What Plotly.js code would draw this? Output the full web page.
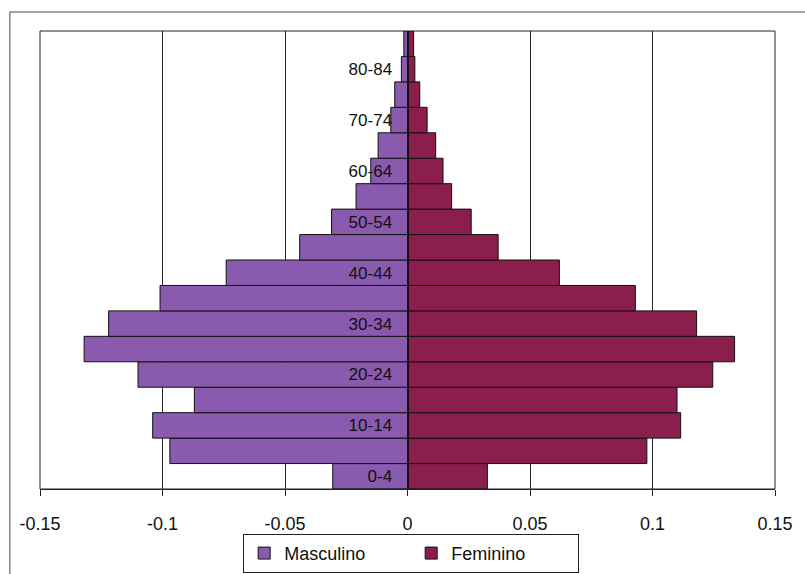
<!DOCTYPE html>
<html>
<head>
<meta charset="utf-8">
<script src="https://cdn.plot.ly/plotly-3.0.1.min.js"></script>
<style>
  html, body { margin: 0; padding: 0; background: #fff; }
  #chart { width: 805px; height: 574px; }
</style>
</head>
<body>
<div id="chart"></div>
<script>
// Age groups (bottom to top)
const ageGroups = ['0-4','5-9','10-14','15-19','20-24','25-29','30-34','35-39','40-44','45-49','50-54','55-59','60-64','65-69','70-74','75-79','80-84','85+'];
// Proportions (male plotted as negative values)
const masculino = [-0.0305, -0.097, -0.104, -0.087, -0.110, -0.132, -0.122, -0.101, -0.074, -0.044, -0.031, -0.021, -0.015, -0.012, -0.0068, -0.0052, -0.0025, -0.0015];
const feminino  = [0.0326, 0.0977, 0.1115, 0.110, 0.1246, 0.1335, 0.118, 0.093, 0.062, 0.037, 0.026, 0.018, 0.0145, 0.0115, 0.008, 0.005, 0.003, 0.0025];
// Labelled age groups on the central axis
const yTickVals = ['0-4','10-14','20-24','30-34','40-44','50-54','60-64','70-74','80-84'];
// X axis ticks
const xTickVals = [-0.15, -0.1, -0.05, 0, 0.05, 0.1, 0.15];
const xTickText = ['-0.15', '-0.1', '-0.05', '0', '0.05', '0.1', '0.15'];

const FONT = 'Liberation Sans, Arial, sans-serif';

const traces = [
  {
    type: 'bar', orientation: 'h', name: 'Masculino',
    y: ageGroups, x: masculino,
    marker: { color: '#8a5aae', line: { color: '#111', width: 1 } }
  },
  {
    type: 'bar', orientation: 'h', name: 'Feminino',
    y: ageGroups, x: feminino,
    marker: { color: '#8c1e4e', line: { color: '#111', width: 1 } }
  }
];

const layout = {
  width: 805, height: 574,
  margin: { l: 40, r: 30, t: 31, b: 85, autoexpand: false },
  paper_bgcolor: '#fff', plot_bgcolor: '#fff',
  font: { family: FONT, size: 17, color: '#111' },
  barmode: 'relative', bargap: 0,
  showlegend: true,
  legend: {
    orientation: 'h', x: 0.505, xanchor: 'center', y: -0.098, yanchor: 'top',
    bordercolor: '#222', borderwidth: 1, bgcolor: '#fff',
    font: { family: FONT, size: 18, color: '#111' },
    itemwidth: 30, entrywidth: 122, entrywidthmode: 'pixels',
    traceorder: 'normal'
  },
  xaxis: {
    range: [-0.15, 0.15], automargin: false,
    tickvals: xTickVals, ticktext: xTickText,
    showgrid: true, gridcolor: '#222', gridwidth: 1,
    zeroline: false,
    showline: true, linecolor: '#222', linewidth: 1,
    ticks: 'outside', ticklen: 6, tickcolor: '#222',
    ticklabelstandoff: 12,
    tickfont: { family: FONT, size: 18, color: '#111' },
    fixedrange: true
  },
  yaxis: {
    type: 'category', categoryorder: 'array', categoryarray: ageGroups,
    range: [-0.5, 17.5], automargin: false,
    anchor: 'free', position: 0.5,
    tickvals: yTickVals, ticktext: yTickVals,
    showgrid: false, zeroline: false,
    showline: true, linecolor: '#111', linewidth: 1,
    ticks: '', ticklabelstandoff: 12,
    tickfont: { family: FONT, size: 17, color: '#111' },
    fixedrange: true
  },
  shapes: [
    { type: 'rect', xref: 'paper', yref: 'paper', x0: 0, x1: 1, y0: 0, y1: 1,
      line: { color: '#222', width: 1 }, layer: 'above' },
    { type: 'rect', xref: 'paper', yref: 'paper', x0: -0.041, x1: 1.2, y0: -0.4, y1: 1.0415,
      line: { color: '#444', width: 1 }, layer: 'below' }
  ]
};

Plotly.newPlot('chart', traces, layout, { displayModeBar: false, staticPlot: true });
</script>
</body>
</html>
